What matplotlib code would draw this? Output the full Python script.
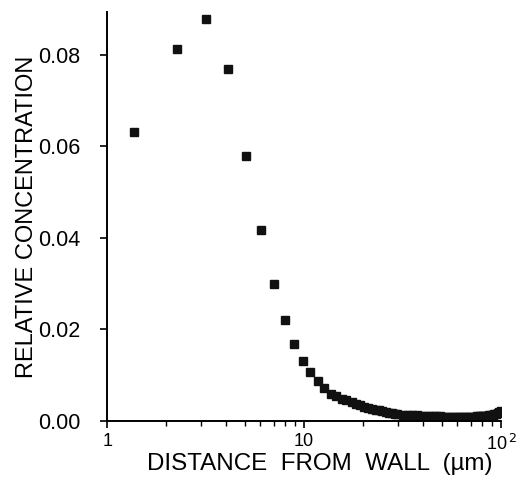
import numpy as np
import matplotlib
matplotlib.use("Agg")
import matplotlib.pyplot as plt
from matplotlib.ticker import FixedLocator, NullFormatter

plt.rcParams['font.family'] = ['Liberation Sans', 'DejaVu Sans']

# distance from wall (um) and relative concentration
dist = [1.37, 2.27, 3.18, 4.11, 5.08, 6.05, 7.04, 8.01, 8.9, 9.85,
        10.7, 11.7, 12.6, 13.7, 14.6, 15.5, 16.4, 17.4, 18.3, 19.3,
        20.2, 21.2, 22.1, 23.1, 24.0, 25.0, 25.9, 26.9, 27.8, 28.8,
        29.7, 31.6, 33.5, 35.4, 37.3, 39.2, 41.1, 43.0, 44.9, 46.8,
        48.7, 50.6, 52.5, 54.4, 56.3, 58.2, 60.1, 62.0, 63.9, 65.8,
        67.7, 69.6, 71.5, 73.4, 75.3, 77.2, 79.1, 81.0, 82.9, 84.8,
        86.7, 88.6, 90.5, 92.4, 94.3, 96.2, 98.1, 100.0]
conc = [0.0632, 0.0813, 0.0879, 0.0769, 0.0579, 0.0417, 0.0299, 0.0221, 0.0169, 0.0132,
        0.0106, 0.0087, 0.0071, 0.0060, 0.0054, 0.0049, 0.0045, 0.0041, 0.0037, 0.0034,
        0.0031, 0.0029, 0.0027, 0.0025, 0.0023, 0.0021, 0.0020, 0.0018, 0.0017, 0.0016,
        0.0015, 0.0014, 0.0013, 0.0012, 0.0012, 0.0011, 0.0011, 0.0011, 0.0010, 0.0010,
        0.0010, 0.0009, 0.0009, 0.0009, 0.0009, 0.0009, 0.0009, 0.0009, 0.0009, 0.0009,
        0.0009, 0.0009, 0.0009, 0.0009, 0.0010, 0.0010, 0.0010, 0.0010, 0.0011, 0.0011,
        0.0012, 0.0013, 0.0014, 0.0015, 0.0016, 0.0018, 0.0020, 0.0022]

xticks = [1, 10, 100]
xticklabels = ['1', '10', '10$^{\\,2}$']
yticks = [0.00, 0.02, 0.04, 0.06, 0.08]
yticklabels = ['0.00', '0.02', '0.04', '0.06', '0.08']

fig = plt.figure(figsize=(5.28, 4.8), dpi=100)
ax = fig.add_axes([0.203, 0.123, 0.746, 0.852])

ax.plot(dist, conc, 's', color='#111111', ms=6.2, mec='#111111')

ax.set_xscale('log')
ax.set_xlim(1, 100)
ax.set_ylim(0, 0.0894)

ax.spines['top'].set_visible(False)
ax.spines['right'].set_visible(False)
for s in ['left', 'bottom']:
    ax.spines[s].set_linewidth(1.4)

ax.set_xticks(xticks)
ax.set_xticklabels(xticklabels, fontsize=13)
ax.xaxis.set_minor_locator(FixedLocator([2, 3, 4, 5, 6, 7, 8, 9, 20, 30, 40, 50, 60, 70, 80, 90]))
ax.xaxis.set_minor_formatter(NullFormatter())
ax.set_yticks(yticks)
ax.set_yticklabels(yticklabels, fontsize=15.5)

ax.tick_params(axis='x', which='major', direction='out', length=5, width=1.2, pad=4)
ax.tick_params(axis='x', which='minor', direction='out', length=3.5, width=1.0)
ax.tick_params(axis='y', direction='out', length=5, width=1.2, pad=14.5)

ax.set_xlabel('DISTANCE  FROM  WALL  (\u00b5m)', fontsize=17.4, va='center')
ax.xaxis.set_label_coords(0.54, -0.105)
ax.set_ylabel('RELATIVE CONCENTRATION', fontsize=17, labelpad=0)

fig.savefig('out.png', dpi=100)
